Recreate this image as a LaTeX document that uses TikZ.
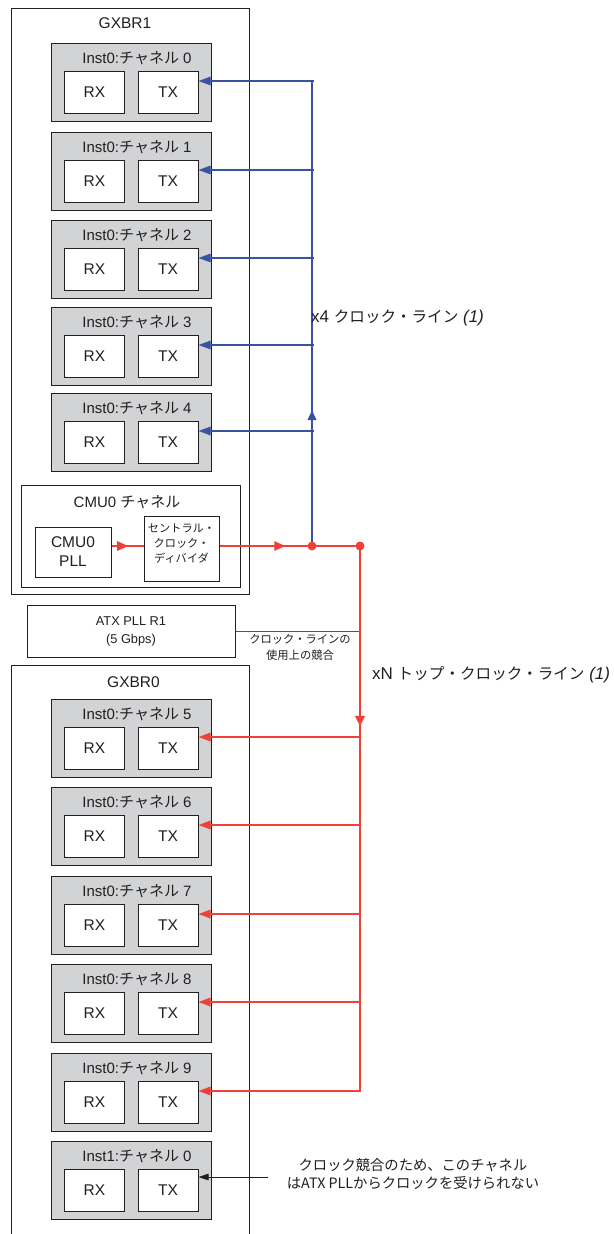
\documentclass[tikz,border=0pt]{standalone}
\usepackage{fontspec}
\setmainfont{Liberation Sans}
\newfontfamily\jp{Noto Sans CJK JP}
\usetikzlibrary{arrows.meta,decorations.markings}
\definecolor{txt}{HTML}{231F20}
\definecolor{chfill}{HTML}{D1D3D4}
\definecolor{blu}{HTML}{3953A4}
\definecolor{rd}{HTML}{EF4136}
\newcommand{\fsz}[2]{\fontsize{#1}{#2}\selectfont}
\tikzset{
  outer/.style={draw=txt, line width=0.9pt},
  chbox/.style={draw=txt, fill=chfill, line width=1pt, minimum width=160pt, minimum height=78pt, inner sep=0pt},
  sub/.style={draw=txt, fill=white, line width=1pt, minimum width=60pt, minimum height=42pt, inner sep=0pt, text=txt, font=\fsz{15.5}{18}},
  plainbox/.style={draw=txt, fill=white, line width=1pt, inner sep=0pt, text=txt},
  chlab/.style={text=txt, inner sep=0pt, font=\fsz{15}{18}},
  lbl/.style={text=txt, inner sep=0pt, align=center},
  bline/.style={draw=blu, line width=1.3pt},
  rline/.style={draw=rd, line width=1.5pt},
  btip/.style={-{Triangle[length=12pt,width=8.5pt]}},
  dot/.style={circle, fill=rd, minimum size=8.5pt, inner sep=0pt},
  midarrow/.style={postaction={decorate, decoration={markings, mark=at position #1 with {\arrow{Triangle[length=11pt,width=9.5pt]}}}}}
}
\begin{document}
\begin{tikzpicture}[x=1pt,y=-1pt]
\useasboundingbox (0,0) rectangle (613,1234);
\fill[white] (0,0) rectangle (613,1234);

% GXBR1
\node[outer, minimum width=238pt, minimum height=586pt, inner sep=0pt] (gx1) at (130,301) {};
\node[lbl, font=\fsz{15.5}{18}] (gx1lab) at (125,23) {GXBR1};

\foreach \i/\t in {0/43,1/132,2/220,3/307,4/393}{
  \node[chbox] (ch\i) at (131,\t+39) {};
  \node[chlab] (lab\i) at (137,\t+15) {Inst0:{\jp チャネル} \i};
  \node[sub] (rx\i) at (94.5,\t+49) {RX};
  \node[sub] (tx\i) at (168,\t+49) {TX};
  \coordinate (bt\i) at (313.5,\t+38);
  \draw[bline,btip] (bt\i) -- (tx\i.east |- bt\i);
}

% CMU0 channel
\node[outer, minimum width=219pt, minimum height=102pt, inner sep=0pt] (cmu) at (130.5,536) {};
\node[lbl, font=\fsz{15}{18}] (cmulab) at (127,502) {CMU0 {\jp チャネル}};
\node[plainbox, minimum width=76pt, minimum height=50pt, align=center, font=\fsz{15.5}{19}] (pll) at (73,552) {CMU0\\PLL};
\node[plainbox, minimum width=75pt, minimum height=65pt] (div) at (181.5,548.5) {};
\node[lbl, font=\jp\fsz{11.2}{15}] (divlab) at (181.5,543.5) {セントラル・\\クロック・\\ディバイダ};

\node[dot] (j1) at (312,546) {};
\node[dot] (j2) at (360,546) {};

\draw[rline, midarrow=0.52] (pll.east |- j1) -- (div.west |- j1);
\draw[rline, midarrow=0.468] (div.east |- j1) -- (j2.center);
\draw[bline, postaction={decorate, decoration={markings, mark=at position 0.292 with {\arrow{Triangle[length=10pt,width=9pt]}}}}] (j1.center) -- (j1.center |- bt0);
\node[dot] at (j1) {};
\node[dot] at (j2) {};

\node[lbl, anchor=west, font=\fsz{17}{20}] (x4lab) at (311,318) {x4 {\jp\fsz{15.6}{20}クロック・ライン} \textit{(1)}};

% ATX PLL
\node[plainbox, minimum width=208pt, minimum height=52pt, align=center, font=\fsz{12.8}{18}] (atx) at (131,631) {ATX PLL R1\\(5 Gbps)};
\draw[blu, line width=0.8pt] (atx.east) -- (atx.east -| j2);
\node[lbl, font=\jp\fsz{11.3}{16}] (conflab) at (300,647) {クロック・ラインの\\使用上の競合};

% GXBR0
\draw[outer] (11,1236) -- (11,665) -- (249,665) -- (249,1236);
\node[lbl, font=\fsz{15.5}{18}] (gx0lab) at (133.5,682) {GXBR0};

\foreach \i/\t in {5/699,6/787,7/876,8/964,9/1053}{
  \node[chbox] (ch\i) at (131,\t+39) {};
  \node[chlab] (lab\i) at (137,\t+15) {Inst0:{\jp チャネル} \i};
  \node[sub] (rx\i) at (94.5,\t+49) {RX};
  \node[sub] (tx\i) at (168,\t+49) {TX};
  \coordinate (rt\i) at (360,\t+38);
  \draw[rline,btip] (rt\i) -- (tx\i.east |- rt\i);
}
\node[chbox] (ch10) at (131,1141+39) {};
\node[chlab] (lab10) at (137,1141+15) {Inst1:{\jp チャネル} 0};
\node[sub] (rx10) at (94.5,1141+49) {RX};
\node[sub] (tx10) at (168,1141+49) {TX};

\draw[rline, line cap=rect, postaction={decorate, decoration={markings, mark=at position 0.33 with {\arrow{Triangle[length=10pt,width=10pt]}}}}] (j2.center) -- (rt9);
\node[dot] at (j2) {};

\node[lbl, anchor=west, font=\fsz{17}{20}] (xnlab) at (372,675) {xN {\jp\fsz{15.6}{20}トップ・クロック・ライン} \textit{(1)}};

\coordinate (noteend) at (268,1177);
\draw[txt, line width=0.8pt, -{Triangle[length=10pt,width=6.5pt]}] (noteend) -- (tx10.east |- noteend);
\node[lbl, font=\jp\fsz{14.3}{18}] (note) at (413,1174) {クロック競合のため、このチャネル\\はATX PLLからクロックを受けられない};
\end{tikzpicture}
\end{document}
